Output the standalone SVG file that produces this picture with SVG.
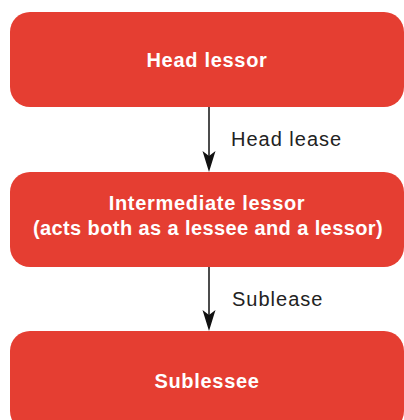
<svg xmlns="http://www.w3.org/2000/svg" width="404" height="420" viewBox="0 0 404 420">
<style>
.box{fill:#E53E32}
.nt{fill:#fff;font-family:"Liberation Sans",Arial,sans-serif;font-weight:bold;font-size:20px;letter-spacing:0.7px;text-anchor:middle}
.lbl{fill:#222;font-family:"Liberation Sans",Arial,sans-serif;font-size:20px;letter-spacing:1px}
.ln{stroke:#111;stroke-width:1.5;fill:none}
.ah{fill:#111}
</style>
<rect width="404" height="420" fill="#fff"/>
<g id="connectors">
<line class="ln" x1="209" y1="107" x2="209" y2="160"/>
<path class="ah" d="M209 172 L202.5 151 L209 156 L215.5 151 Z"/>
<text class="lbl" x="231" y="146">Head lease</text>
<line class="ln" x1="209" y1="267" x2="209" y2="319"/>
<path class="ah" d="M209 331 L202.5 310 L209 315 L215.5 310 Z"/>
<text class="lbl" x="232" y="306">Sublease</text>
</g>
<g id="head-lessor">
<rect class="box" x="10" y="12" width="394" height="95" rx="20"/>
<text class="nt" x="207" y="67">Head lessor</text>
</g>
<g id="intermediate-lessor">
<rect class="box" x="10" y="172" width="394" height="95" rx="20"/>
<text class="nt" x="207" y="210">Intermediate lessor</text>
<text class="nt" x="208" y="235" style="letter-spacing:0.4px">(acts both as a lessee and a lessor)</text>
</g>
<g id="sublessee">
<rect class="box" x="10" y="331" width="394" height="100" rx="20"/>
<text class="nt" x="207" y="388">Sublessee</text>
</g>
</svg>
